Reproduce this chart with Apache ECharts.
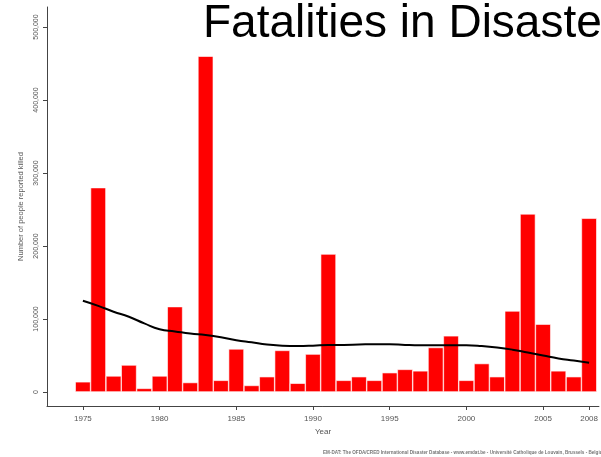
<!DOCTYPE html>
<html>
<head>
<meta charset="utf-8">
<script src="https://cdn.jsdelivr.net/npm/echarts@6/dist/echarts.min.js"></script>
<style>
html,body{margin:0;padding:0;background:#fff;}
#chart{width:601px;height:457px;}
</style>
</head>
<body>
<div id="chart"></div>
<script>
var years = [1975,1976,1977,1978,1979,1980,1981,1982,1983,1984,1985,1986,1987,1988,1989,1990,1991,1992,1993,1994,1995,1996,1997,1998,1999,2000,2001,2002,2003,2004,2005,2006,2007,2008];
var killed = [14000,280000,22000,37000,5000,22000,117000,13000,460000,16000,59000,9000,21000,57000,12000,52000,189000,16000,21000,16000,26500,31000,29000,61000,77000,16000,39000,21000,111000,244000,93000,29000,21000,238000];
var trend = [125000,118000,110000,103000,94000,86000,83000,80000,78000,75000,71000,68000,65000,63500,63000,63500,64500,64500,65000,65500,65500,64500,64000,64000,64000,64000,63000,61000,58000,54000,50000,46000,43000,40000];
var yTicks = [0,100000,200000,300000,400000,500000];
var xTicks = [1975,1980,1985,1990,1995,2000,2005,2008];
var titleText = 'Fatalities in Disasters';
var yName = 'Number of people reported killed';
var xName = 'Year';
var sourceText = 'EM-DAT: The OFDA/CRED International Disaster Database - www.emdat.be - Université Catholique de Louvain, Brussels - Belgium';

var chart = echarts.init(document.getElementById('chart'), null, {renderer:'canvas'});
var fmt = function(v){ return v.toString().replace(/\B(?=(\d{3})+(?!\d))/g, ','); };
chart.setOption({
  animation:false,
  backgroundColor:'#fff',
  grid:{left:47, right:0, top:7, bottom:51, containLabel:false},
  xAxis:{
    type:'value', min:1972.66, max:2008.64,
    name:xName, nameLocation:'middle', nameGap:22,
    nameTextStyle:{fontFamily:'Liberation Sans', fontSize:8, color:'#555'},
    axisLine:{show:true, onZero:false, lineStyle:{color:'#444', width:1}},
    axisTick:{show:true, length:4, lineStyle:{color:'#444'}, customValues:xTicks},
    axisLabel:{fontFamily:'Liberation Sans', fontSize:8, color:'#555', margin:9, customValues:xTicks, formatter:function(v){return String(v);}},
    splitLine:{show:false}
  },
  yAxis:{
    type:'value', min:-19200, max:527400,
    name:yName, nameLocation:'middle', nameGap:21, nameRotate:90,
    nameTextStyle:{fontFamily:'Liberation Sans', fontSize:7.5, color:'#555'},
    axisLine:{show:true, onZero:false, lineStyle:{color:'#444', width:1}},
    axisTick:{show:true, length:4, lineStyle:{color:'#444'}, customValues:yTicks},
    axisLabel:{fontFamily:'Liberation Sans', fontSize:7, color:'#555', rotate:90, margin:7, customValues:yTicks, formatter:fmt},
    splitLine:{show:false}
  },
  graphic:[
    {type:'text', left:203, top:1, style:{text:titleText, font:'46px "Liberation Sans"', fill:'#000'}},
    {type:'text', left:323, top:450, style:{text:sourceText, font:'bold 4.6px "Liberation Sans"', fill:'#777'}}
  ],
  series:[
    {type:'bar', data:years.map(function(y,i){return [y,killed[i]];}), barWidth:15.4,
     itemStyle:{color:'#ff0000', borderColor:'#ffffff', borderWidth:0.6}},
    {type:'line', data:years.map(function(y,i){return [y,trend[i]];}), smooth:true, symbol:'none',
     lineStyle:{color:'#000', width:2}}
  ]
});
</script>
</body>
</html>
